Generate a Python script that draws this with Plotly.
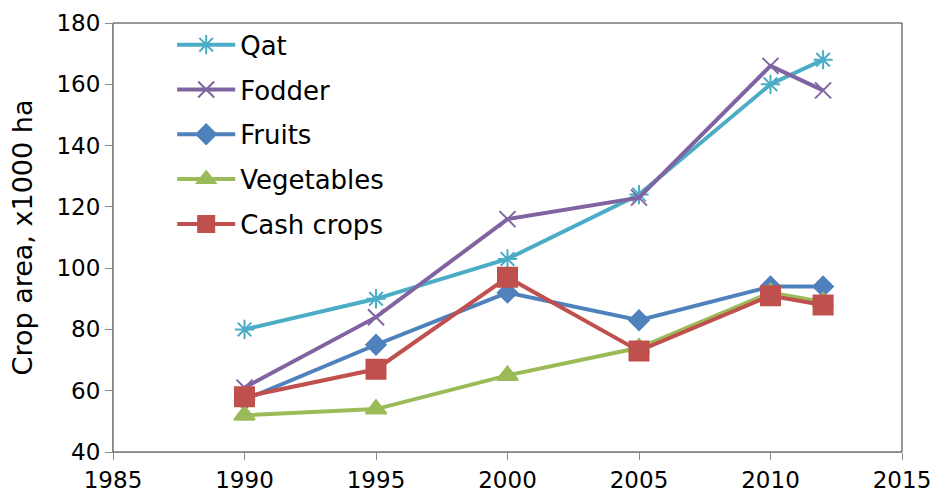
import plotly.graph_objects as go

years = [1990, 1995, 2000, 2005, 2010, 2012]
qat = [80, 90, 103, 124, 160, 168]
fodder = [61, 84, 116, 123, 166, 158]
fruits = [57, 75, 92, 83, 94, 94]
vegetables = [52, 54, 65, 74, 92, 89]
cash_crops = [58, 67, 97, 73, 91, 88]

series = [
    ("Qat", qat, "#4BACC6", "asterisk-open", 16),
    ("Fodder", fodder, "#8064A2", "x-thin-open", 16),
    ("Fruits", fruits, "#4F81BD", "diamond", 15),
    ("Vegetables", vegetables, "#9BBB59", "triangle-up", 18),
    ("Cash crops", cash_crops, "#C0504D", "square", 19),
]

fig = go.Figure()
for name, vals, color, sym, size in series:
    fig.add_trace(go.Scatter(
        x=years, y=vals, name=name, mode="lines+markers",
        legendgroup=name,
        line=dict(color=color, width=4),
        marker=dict(symbol=sym, size=size, color=color,
                    line=dict(color=color, width=2)),
    ))

fig.update_layout(
    width=931, height=495,
    margin=dict(l=113, r=29, t=23, b=43),
    paper_bgcolor="white", plot_bgcolor="white",
    font=dict(family="DejaVu Sans", size=23, color="#000000"),
    showlegend=True,
    legend=dict(x=0.075, y=1.004, xanchor="left", yanchor="top",
                font=dict(size=26), traceorder="grouped", itemwidth=58,
                tracegroupgap=8, bgcolor="rgba(0,0,0,0)"),
    xaxis=dict(range=[1985, 2015], tickvals=[1985, 1990, 1995, 2000, 2005, 2010, 2015],
               showgrid=False, zeroline=False, showline=True, linecolor="#888888",
               linewidth=1, ticks="outside", ticklen=7, tickcolor="#888888",
               automargin=False, ticklabeloverflow="allow", tickfont=dict(size=23)),
    yaxis=dict(range=[40, 180], tickvals=[40, 60, 80, 100, 120, 140, 160, 180],
               showgrid=False, zeroline=False, showline=True, linecolor="#888888",
               linewidth=1, ticks="outside", ticklen=7, tickcolor="#888888",
               automargin=False, ticklabeloverflow="allow",
               title=dict(text="Crop area, x1000 ha", font=dict(size=27), standoff=16),
               tickfont=dict(size=23)),
)

# plot area border (top and right)
fig.add_shape(type="rect", xref="paper", yref="paper", x0=0, y0=0, x1=1, y1=1,
              line=dict(color="#333333", width=1), layer="below")

fig.write_html("out.html", config={"displayModeBar": False},
               post_script="document.body.style.margin='0';document.body.style.overflow='hidden';")
